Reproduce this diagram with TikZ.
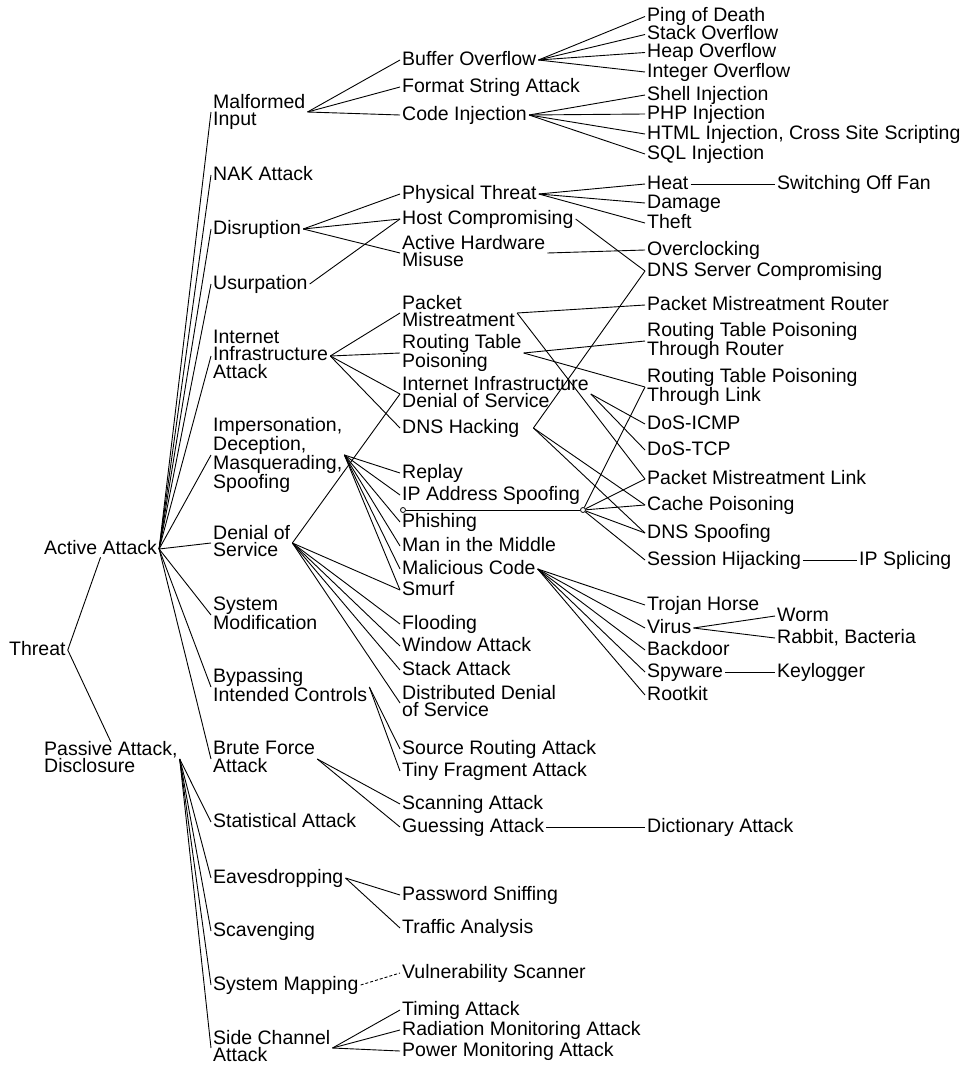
\documentclass[tikz,border=0pt]{standalone}
\usepackage{fontspec}
\setmainfont{Liberation Sans}
\begin{document}
\begin{tikzpicture}[x=1pt,y=-1pt,
  lbl/.style={anchor=west, inner xsep=2pt, inner ysep=-1pt, align=left,
    font=\fontsize{19.5}{17.6}\selectfont,
    execute at begin node={\vphantom{Ah}}, execute at end node={\vphantom{g}}},
  ln/.style={line width=0.9pt},
  hub/.style={circle, draw, fill=white, line width=0.8pt, inner sep=0pt, minimum size=5pt}]
\useasboundingbox (0,-2) rectangle (964,1063);

% root and the two main branches
\node[lbl] (thr) at (7,648) {Threat};
\node[lbl] (act) at (42,547) {Active Attack};
\node[lbl] (pas) at (42,757) {Passive Attack,\\Disclosure};

% attack classes
\node[lbl] (mal) at (211,110) {Malformed\\Input};
\node[lbl] (nak) at (211,173) {NAK Attack};
\node[lbl] (dis) at (211,227) {Disruption};
\node[lbl] (usu) at (211,282) {Usurpation};
\node[lbl] (iia) at (211,354) {Internet\\Infrastructure\\Attack};
\node[lbl] (imp) at (211,453) {Impersonation,\\Deception,\\Masquerading,\\Spoofing};
\node[lbl] (dos) at (211,541) {Denial of\\Service};
\node[lbl] (sym) at (211,613) {System\\Modification};
\node[lbl] (byp) at (211,685) {Bypassing\\Intended Controls};
\node[lbl] (bru) at (211,757) {Brute Force\\Attack};
\node[lbl] (sta) at (211,820) {Statistical Attack};
\node[lbl] (eav) at (211,876) {Eavesdropping};
\node[lbl] (sca) at (211,929) {Scavenging};
\node[lbl] (map) at (211,983) {System Mapping};
\node[lbl] (sid) at (211,1046) {Side Channel\\Attack};

% techniques
\node[lbl] (buf) at (400,58) {Buffer Overflow};
\node[lbl] (fmt) at (400,85) {Format String Attack};
\node[lbl] (cod) at (400,113) {Code Injection};
\node[lbl] (phy) at (400,192) {Physical Threat};
\node[lbl] (hos) at (400,217) {Host Compromising};
\node[lbl] (ahm) at (400,251) {Active Hardware\\Misuse};
\node[lbl] (pkm) at (400,311) {Packet\\Mistreatment};
\node[lbl] (rtp) at (400,351) {Routing Table\\Poisoning};
\node[lbl] (iid) at (400,392) {Internet Infrastructure\\Denial of Service};
\node[lbl] (dnh) at (400,426) {DNS Hacking};
\node[lbl] (rep) at (400,471) {Replay};
\node[lbl] (ips) at (400,493) {IP Address Spoofing};
\node[lbl] (phi) at (400,520) {Phishing};
\node[lbl] (mim) at (400,544) {Man in the Middle};
\node[lbl] (mcd) at (400,567) {Malicious Code};
\node[lbl] (smu) at (400,588) {Smurf};
\node[lbl] (flo) at (400,622) {Flooding};
\node[lbl] (win) at (400,644) {Window Attack};
\node[lbl] (stk) at (400,668) {Stack Attack};
\node[lbl] (ddo) at (400,701) {Distributed Denial\\of Service};
\node[lbl] (sra) at (400,747) {Source Routing Attack};
\node[lbl] (tfa) at (400,769) {Tiny Fragment Attack};
\node[lbl] (scn) at (400,802) {Scanning Attack};
\node[lbl] (gue) at (400,825) {Guessing Attack};
\node[lbl] (pws) at (400,893) {Password Sniffing};
\node[lbl] (tra) at (400,926) {Traffic Analysis};
\node[lbl] (vul) at (400,971) {Vulnerability Scanner};
\node[lbl] (tim) at (400,1008) {Timing Attack};
\node[lbl] (rad) at (400,1028) {Radiation Monitoring Attack};
\node[lbl] (pow) at (400,1049) {Power Monitoring Attack};

% concrete attacks
\node[lbl] (pod) at (645,14.5) {Ping of Death};
\node[lbl] (sov) at (645,32.5) {Stack Overflow};
\node[lbl] (hov) at (645,50.5) {Heap Overflow};
\node[lbl] (iov) at (645,70) {Integer Overflow};
\node[lbl] (she) at (645,93) {Shell Injection};
\node[lbl] (php) at (645,112) {PHP Injection};
\node[lbl] (htm) at (645,132) {HTML Injection, Cross Site Scripting};
\node[lbl] (sql) at (645,152) {SQL Injection};
\node[lbl] (hea) at (645,182) {Heat};
\node[lbl] (dam) at (645,201) {Damage};
\node[lbl] (the) at (645,221) {Theft};
\node[lbl] (ovc) at (645,248) {Overclocking};
\node[lbl] (dsc) at (645,269) {DNS Server Compromising};
\node[lbl] (pmr) at (645,303) {Packet Mistreatment Router};
\node[lbl] (rtr) at (645,339) {Routing Table Poisoning\\Through Router};
\node[lbl] (rtl) at (645,385) {Routing Table Poisoning\\Through Link};
\node[lbl] (icm) at (645,422) {DoS-ICMP};
\node[lbl] (tcp) at (645,448) {DoS-TCP};
\node[lbl] (pml) at (645,477) {Packet Mistreatment Link};
\node[lbl] (cpo) at (645,503) {Cache Poisoning};
\node[lbl] (dsp) at (645,531) {DNS Spoofing};
\node[lbl] (ses) at (645,558) {Session Hijacking};
\node[lbl] (tro) at (645,603) {Trojan Horse};
\node[lbl] (vir) at (645,626) {Virus};
\node[lbl] (bac) at (645,648) {Backdoor};
\node[lbl] (spy) at (645,670) {Spyware};
\node[lbl] (roo) at (645,693) {Rootkit};
\node[lbl] (dic) at (645,825) {Dictionary Attack};

\node[lbl] (fan) at (775,182) {Switching Off Fan};
\node[lbl] (spl) at (857,558) {IP Splicing};
\node[lbl] (wor) at (775,614) {Worm};
\node[lbl] (rab) at (775,636) {Rabbit, Bacteria};
\node[lbl] (key) at (775,670) {Keylogger};

% junction under IP Address Spoofing
\node[hub] (h1) at (403,508) {};
\node[hub] (h2) at (583,508) {};
\coordinate (dnhub) at ([xshift=12pt]dnh.east);

% connectors
\draw[ln] (thr.east) -- (act.south);
\draw[ln] (thr.east) -- (pas.north);
\foreach \c in {mal,nak,dis,usu,iia,imp,dos,sym,byp,bru}
  \draw[ln] (act.east) -- (\c.west);
\foreach \c in {sta,eav,sca,map,sid}
  \draw[ln] (pas.east) -- (\c.west);

\foreach \c in {buf,fmt,cod} \draw[ln] (mal.east) -- (\c.west);
\foreach \c in {phy,hos,ahm} \draw[ln] (dis.east) -- (\c.west);
\draw[ln] (usu.east) -- (hos.west);
\foreach \c in {pkm,rtp,iid,dnh} \draw[ln] (iia.east) -- (\c.west);
\foreach \c in {rep,ips,phi,mim,mcd,smu} \draw[ln] (imp.east) -- (\c.west);
\foreach \c in {iid,smu,flo,win,stk,ddo} \draw[ln] (dos.east) -- (\c.west);
\foreach \c in {sra,tfa} \draw[ln] (byp.east) -- (\c.west);
\foreach \c in {scn,gue} \draw[ln] (bru.east) -- (\c.west);
\foreach \c in {pws,tra} \draw[ln] (eav.east) -- (\c.west);
\draw[ln, dash pattern=on 3pt off 2pt] (map.east) -- (vul.west);
\foreach \c in {tim,rad,pow} \draw[ln] (sid.east) -- (\c.west);

\foreach \c in {pod,sov,hov,iov} \draw[ln] (buf.east) -- (\c.west);
\foreach \c in {she,php,htm,sql} \draw[ln] (cod.east) -- (\c.west);
\foreach \c in {hea,dam,the} \draw[ln] (phy.east) -- (\c.west);
\draw[ln] (hos.east) -- (dsc.west);
\draw[ln] (ahm.east) -- (ovc.west);
\foreach \c in {pmr,pml} \draw[ln] (pkm.east) -- (\c.west);
\foreach \c in {rtr,rtl} \draw[ln] (rtp.east) -- (\c.west);
\foreach \c in {icm,tcp} \draw[ln] (iid.east) -- (\c.west);
\foreach \c in {dsc,cpo,dsp} \draw[ln] (dnhub) -- (\c.west);
\draw[ln] (h1) -- (h2);
\foreach \c in {rtl,pml,cpo,dsp,ses} \draw[ln] (h2) -- (\c.west);
\foreach \c in {tro,vir,bac,spy,roo} \draw[ln] (mcd.east) -- (\c.west);
\draw[ln] (gue.east) -- (dic.west);

\draw[ln] (hea.east) -- (fan.west);
\draw[ln] (ses.east) -- (spl.west);
\foreach \c in {wor,rab} \draw[ln] (vir.east) -- (\c.west);
\draw[ln] (spy.east) -- (key.west);
\end{tikzpicture}
\end{document}
